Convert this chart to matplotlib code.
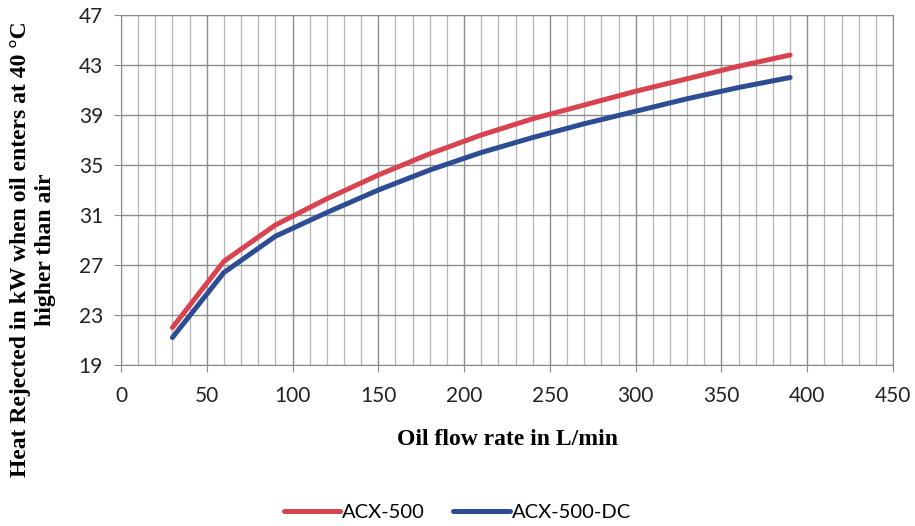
import matplotlib
matplotlib.use("Agg")
import matplotlib.pyplot as plt
import numpy as np
from matplotlib.ticker import MultipleLocator

# oil flow rate (L/min)
flow = [30, 60, 90, 120, 150, 180, 210, 240, 270, 300, 330, 360, 390]
# heat rejected (kW)
acx500 = [22.0, 27.3, 30.2, 32.3, 34.2, 35.9, 37.4, 38.7, 39.8, 40.9, 41.9, 42.9, 43.8]
acx500_dc = [21.2, 26.4, 29.3, 31.2, 33.0, 34.6, 36.0, 37.2, 38.3, 39.3, 40.3, 41.2, 42.0]

x_ticks = np.arange(0, 451, 50)
y_ticks = np.arange(19, 48, 4)

fig = plt.figure(figsize=(9.15, 5.26), dpi=100)
ax = fig.add_axes([0.1322, 0.306, 0.976 - 0.1322, 0.9715 - 0.306])

ax.plot(flow, acx500, color="#D9434F", linewidth=3.6, solid_capstyle="round",
        solid_joinstyle="round", label="ACX-500")
ax.plot(flow, acx500_dc, color="#2E4C94", linewidth=3.6, solid_capstyle="round",
        solid_joinstyle="round", label="ACX-500-DC")

ax.set_xlim(0, 450)
ax.set_ylim(19, 47)
ax.set_xticks(x_ticks)
ax.set_yticks(y_ticks)
ax.xaxis.set_minor_locator(MultipleLocator(10))
ax.grid(which="major", color="#8c8c8c", linewidth=1.0)
ax.grid(which="minor", axis="x", color="#b4b4b4", linewidth=0.9)
ax.set_axisbelow(True)
ax.tick_params(which="minor", length=0)
ax.tick_params(which="major", length=5, color="#8c8c8c", labelsize=15)
ax.tick_params(axis="x", pad=10)
ax.tick_params(axis="y", pad=8)
for lab in ax.get_xticklabels() + ax.get_yticklabels():
    lab.set_fontfamily("Lato")
    lab.set_color("#222222")
for s in ax.spines.values():
    s.set_color("#8c8c8c")

ax.set_xlabel("Oil flow rate in L/min", fontfamily="Liberation Serif",
              fontweight="bold", fontsize=17, labelpad=17)
ax.set_ylabel("Heat Rejected in kW when oil enters at 40 \u00b0C\nhigher than air",
              fontfamily="Liberation Serif", fontweight="bold", fontsize=17,
              linespacing=1.25)
ax.yaxis.set_label_coords(-0.084, 0.33)

fig.legend(loc="center", bbox_to_anchor=(0.5, 0.025), ncol=2, frameon=False,
           prop={"family": "Lato", "size": 14.5}, handlelength=2.8, handletextpad=0.1,
           columnspacing=1.4)

fig.savefig("out.png", dpi=100)
